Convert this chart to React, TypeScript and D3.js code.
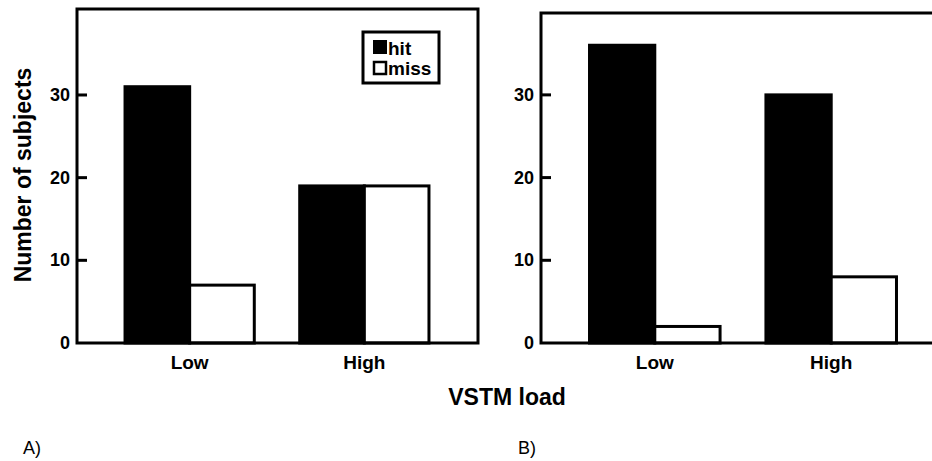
import React from "react";
import * as d3 from "d3";

const categories = ["Low", "High"];
const seriesNames = ["hit", "miss"];
const panelAHit = [31, 19];
const panelAMiss = [7, 19];
const panelBHit = [36, 30];
const panelBMiss = [2, 8];
const yTicks = [0, 10, 20, 30];
const panelLabels = ["A)", "B)"];
const xTitle = "VSTM load";
const yTitle = "Number of subjects";

const W = 932;
const H = 461;
const FONT = "'Liberation Sans', Arial, Helvetica, sans-serif";

type PanelProps = {
  left: number;
  right: number;
  top: number;
  bottom: number;
  yMax: number;
  hit: number[];
  miss: number[];
  showLegend: boolean;
};

function Panel({ left, right, top, bottom, yMax, hit, miss, showLegend }: PanelProps) {
  const y = d3.scaleLinear().domain([0, yMax]).range([bottom, top]);
  const x = d3
    .scaleBand<string>()
    .domain(categories)
    .range([left, right])
    .paddingInner(0.26)
    .paddingOuter(0.275);
  const xs = d3.scaleBand<string>().domain(seriesNames).range([0, x.bandwidth()]);
  const rows = categories.map((c, i) => ({ c, hit: hit[i], miss: miss[i] }));
  return (
    <g>
      {rows.map((r) => (
        <g key={r.c}>
          <rect
            x={(x(r.c) as number) + (xs("hit") as number)}
            y={y(r.hit)}
            width={xs.bandwidth()}
            height={y(0) - y(r.hit)}
            fill="#000"
            stroke="#000"
            strokeWidth={3}
          />
          <rect
            x={(x(r.c) as number) + (xs("miss") as number)}
            y={y(r.miss)}
            width={xs.bandwidth()}
            height={y(0) - y(r.miss)}
            fill="#fff"
            stroke="#000"
            strokeWidth={3}
          />
          <text
            x={(x(r.c) as number) + x.bandwidth() / 2}
            y={362}
            textAnchor="middle"
            dominantBaseline="central"
            fontFamily={FONT}
            fontWeight="bold"
            fontSize={19}
          >
            {r.c}
          </text>
        </g>
      ))}
      {/* frame */}
      <path
        d={`M${left},${bottom} L${left},${top} L${right + 1},${top} L${right + 1},${bottom} Z`}
        fill="none"
        stroke="#000"
        strokeWidth={3}
      />
      {yTicks.map((t) => (
        <g key={t}>
          {t !== 0 && (
            <line x1={left} x2={left + 10} y1={y(t)} y2={y(t)} stroke="#000" strokeWidth={3} />
          )}
          <text
            x={left - 7}
            y={y(t)}
            textAnchor="end"
            dominantBaseline="central"
            fontFamily={FONT}
            fontWeight="bold"
            fontSize={18}
          >
            {t}
          </text>
        </g>
      ))}
      {showLegend && (
        <g>
          <rect x={363} y={32} width={76} height={51} fill="#fff" stroke="#000" strokeWidth={3} />
          <rect x={374} y={41} width={12} height={12} fill="#000" stroke="#000" strokeWidth={2} />
          <text x={388} y={48} dominantBaseline="central" fontFamily={FONT} fontWeight="bold" fontSize={19}>
            {seriesNames[0]}
          </text>
          <rect x={374} y={62} width={12} height={12} fill="#fff" stroke="#000" strokeWidth={2.5} />
          <text x={388} y={68} dominantBaseline="central" fontFamily={FONT} fontWeight="bold" fontSize={19}>
            {seriesNames[1]}
          </text>
        </g>
      )}
    </g>
  );
}

export default function App() {
  return (
    <svg
      width={W}
      height={H}
      style={{ position: "absolute", left: 0, top: 0, background: "#fff" }}
    >
      <rect x={0} y={0} width={W} height={H} fill="#fff" />
      <Panel left={77} right={477} top={9} bottom={343} yMax={40.4} hit={panelAHit} miss={panelAMiss} showLegend={true} />
      <Panel left={541} right={945} top={13} bottom={343} yMax={39.9} hit={panelBHit} miss={panelBMiss} showLegend={false} />
      <text
        transform="translate(23,175) rotate(-90)"
        textAnchor="middle"
        dominantBaseline="central"
        fontFamily={FONT}
        fontWeight="bold"
        fontSize={23}
      >
        {yTitle}
      </text>
      <text
        x={507}
        y={397}
        textAnchor="middle"
        dominantBaseline="central"
        fontFamily={FONT}
        fontWeight="bold"
        fontSize={23}
      >
        {xTitle}
      </text>
      <text x={23} y={448} dominantBaseline="central" fontFamily={FONT} fontSize={18}>
        {panelLabels[0]}
      </text>
      <text x={518} y={448} dominantBaseline="central" fontFamily={FONT} fontSize={18}>
        {panelLabels[1]}
      </text>
    </svg>
  );
}
